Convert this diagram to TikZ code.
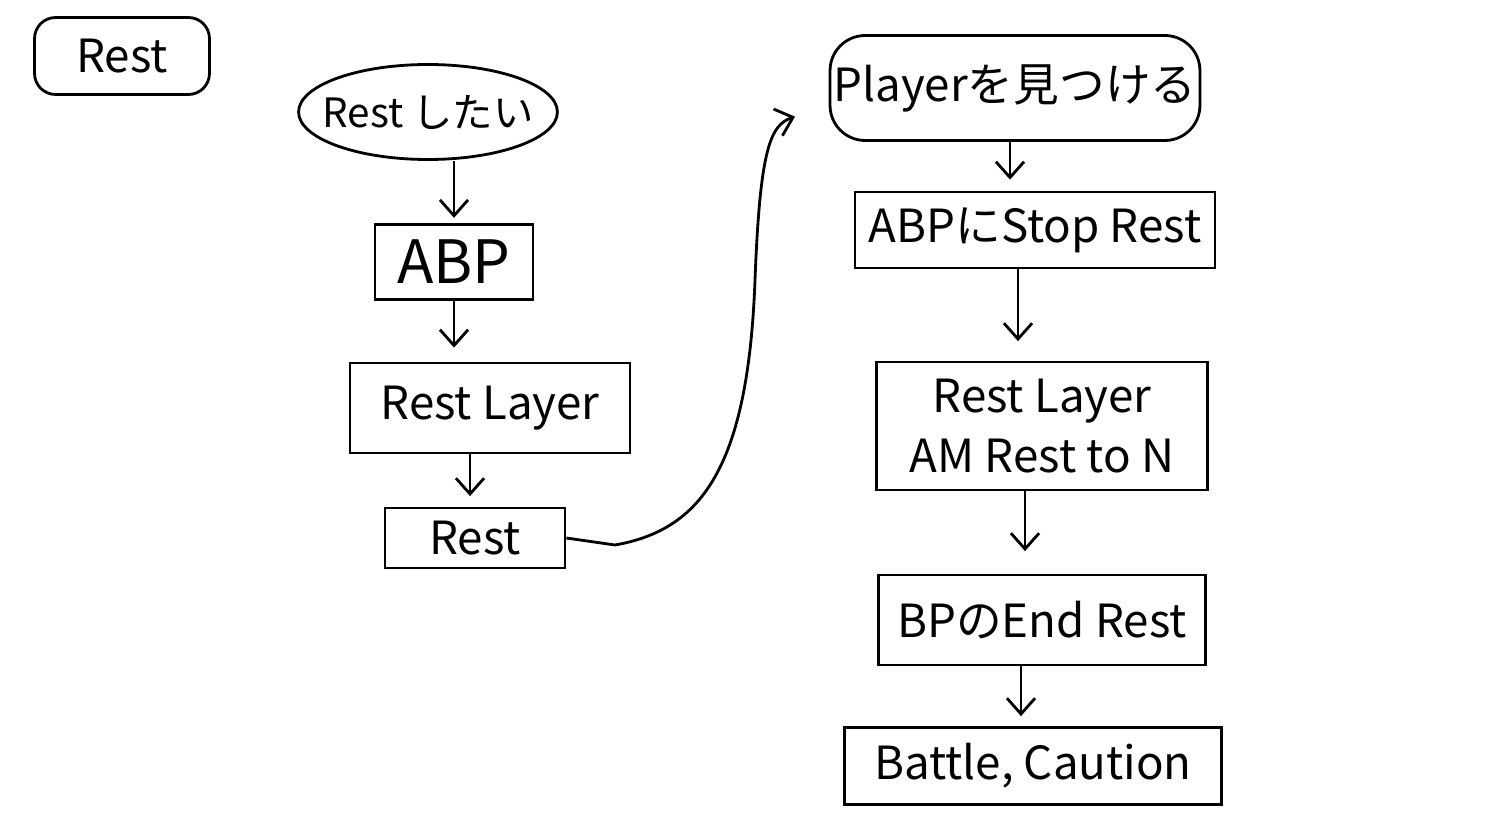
\documentclass[tikz,border=0pt]{standalone}
\usepackage{fontspec}
\setmainfont{Noto Sans CJK JP}
\usetikzlibrary{positioning,arrows.meta,shapes.geometric}

\begin{document}
\begin{tikzpicture}[x=0.02cm,y=-0.02cm,line width=1.6pt,
  box/.style={draw,inner sep=2pt,align=center,font=\fontsize{26}{34}\selectfont},
  arr/.style={-{Straight Barb[length=9pt,width=16pt]},shorten >=3pt}]
  \useasboundingbox (0,0) rectangle (1495,824);
  % left column
  \node[box,rounded corners=12pt,minimum width=3.5cm,minimum height=1.54cm] (title) at (122,56) {Rest};
  \node[box,ellipse,inner xsep=-8pt,inner ysep=0pt,minimum height=1.9cm,font=\fontsize{23}{28}\selectfont] (wish) at (428,112) {Rest したい};
  \node[box,minimum width=3.16cm,minimum height=1.5cm,font=\fontsize{34}{40}\selectfont] (abp) at (454,262) {ABP};
  \node[box,minimum width=5.6cm,minimum height=1.8cm] (layer) at (490,408) {Rest Layer};
  \node[box,minimum width=3.6cm,minimum height=1.2cm] (rest) at (475,538) {Rest};
  % right column
  \node[box,rounded corners=20pt,minimum width=7.4cm,minimum height=2.1cm] (find) at (1015,88) {Playerを見つける};
  \node[box,minimum width=7.2cm,minimum height=1.52cm] (stop) at (1035,230) {ABPにStop Rest};
  \node[box,minimum width=6.62cm,minimum height=2.56cm] (amrest) at (1042,426) {Rest Layer\\AM Rest to N};
  \node[box,minimum width=6.54cm,minimum height=1.8cm] (endrest) at (1042,620) {BPのEnd Rest};
  \node[box,minimum width=7.54cm,minimum height=1.54cm] (battle) at (1033,766) {Battle, Caution};
  \coordinate (hook) at (800,115);
  % connectors
  \draw[arr] (abp.north |- wish.south) -- (abp.north);
  \draw[arr] (abp.south) -- ++(0,52);
  \draw[arr] (470,0 |- layer.south) -- ++(0,47);
  \draw[arr] (rest.east) -- (615,545) .. controls (700,530) and (748,470) .. (755,280)
    .. controls (760,150) and (770,125) .. (hook);
  \draw[arr] (1010,0 |- find.south) -- ++(0,43);
  \draw[arr] (1018,0 |- stop.south) -- ++(0,77);
  \draw[arr] (1025,0 |- amrest.south) -- ++(0,65);
  \draw[arr] (1021,0 |- endrest.south) -- ++(0,55);
\end{tikzpicture}
\end{document}
